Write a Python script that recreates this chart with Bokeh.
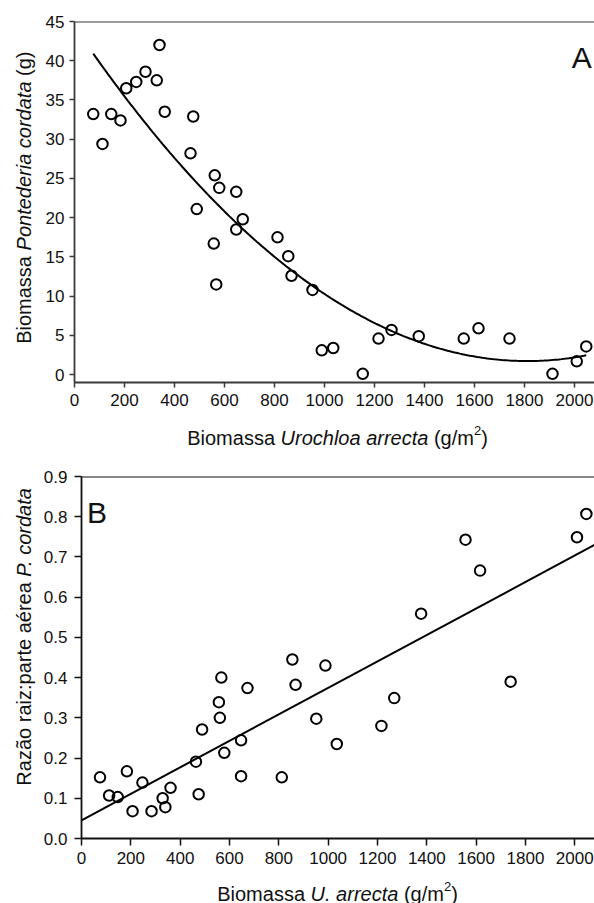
import numpy as np
from bokeh.plotting import figure
from bokeh.layouts import column, row
from bokeh.models import Range1d, Span, Label, FixedTicker, NumeralTickFormatter
from bokeh.embed import file_html
from bokeh.resources import INLINE

# ---------------- data ----------------
# Panel A: Urochloa arrecta biomass (g/m2) vs Pontederia cordata biomass (g)
biomass_a = [75, 112, 147, 184, 207, 247, 284, 329, 340, 361, 464, 475, 489, 557, 561, 567,
             579, 647, 647, 673, 812, 855, 868, 952, 989, 1035, 1153, 1216, 1268, 1377, 1557,
             1616, 1740, 1912, 2009, 2047]
pontederia_a = [33.2, 29.4, 33.2, 32.4, 36.5, 37.3, 38.6, 37.5, 42.0, 33.5, 28.2, 32.9, 21.1,
                16.7, 25.4, 11.5, 23.8, 23.3, 18.5, 19.8, 17.5, 15.1, 12.6, 10.8, 3.1, 3.4, 0.1,
                4.6, 5.7, 4.9, 4.6, 5.9, 4.6, 0.1, 1.7, 3.6]

# Panel B: U. arrecta biomass vs root:shoot ratio of P. cordata
biomass_b = [75, 112, 147, 184, 207, 247, 284, 329, 340, 361, 464, 475, 489, 557, 561, 567,
             579, 647, 647, 673, 812, 855, 868, 952, 989, 1035, 1216, 1268, 1377, 1557, 1616,
             1740, 2009, 2047]
ratio_b = [0.152, 0.107, 0.103, 0.167, 0.068, 0.139, 0.068, 0.100, 0.078, 0.126, 0.191, 0.110,
           0.271, 0.339, 0.300, 0.400, 0.213, 0.244, 0.155, 0.374, 0.152, 0.445, 0.382, 0.298,
           0.430, 0.235, 0.280, 0.349, 0.559, 0.743, 0.666, 0.390, 0.749, 0.807]

x_ticks = [0, 200, 400, 600, 800, 1000, 1200, 1400, 1600, 1800, 2000]
y_ticks_a = [0, 5, 10, 15, 20, 25, 30, 35, 40, 45]
y_ticks_b = [0.0, 0.1, 0.2, 0.3, 0.4, 0.5, 0.6, 0.7, 0.8, 0.9]

FONT = "Liberation Sans"
TICK_SIZE = 17
LABEL_SIZE = 20

# fitted curves (regressions of the data)
ca = np.polyfit(biomass_a, pontederia_a, 2)
xa_fit = np.linspace(min(biomass_a), max(biomass_a), 200)
ya_fit = np.polyval(ca, xa_fit)
cb = np.polyfit(biomass_b, ratio_b, 1)
xb_fit = np.array([0.0, 2080.0])
yb_fit = np.polyval(cb, xb_fit)

W = {' ': 278, '(': 333, ')': 333, '/': 278, ':': 278, '.': 278, 'B': 667, 'P': 667, 'U': 722,
     'R': 722, 'a': 556, 'c': 500, 'd': 556, 'e': 556, 'g': 556, 'h': 556, 'i': 222, 'l': 222,
     'm': 833, 'n': 556, 'o': 556, 'p': 556, 'r': 333, 's': 500, 't': 278, 'z': 500, 'ã': 556,
     'é': 556, '2': 556}


def tw(s, size):
    return sum(W.get(c, 556) for c in s) * size / 1000.0


def rich_label(p, x, y, segs, angle=0.0):
    total = sum(tw(t, s) for t, st, s, r in segs)
    pos = -total / 2.0
    for t, st, s, r in segs:
        lead = tw(t[:len(t) - len(t.lstrip())], s)
        if angle == 0:
            xo, yo = pos + lead, r
        else:
            xo, yo = -r, pos + lead
        p.add_layout(Label(x=x, y=y, x_offset=xo, y_offset=yo, text=t.strip(),
                           text_font=FONT, text_font_size=f"{s}px", text_font_style=st,
                           text_align="left", text_baseline="middle", angle=angle,
                           text_color="#111111"))
        pos += tw(t, s)


def label_fig(w, h):
    f = figure(width=w, height=h, x_range=Range1d(0, w), y_range=Range1d(0, h),
               output_backend="svg", toolbar_location=None, min_border=0)
    f.axis.visible = False
    f.grid.visible = False
    f.outline_line_color = None
    return f


def style(p, yticks, axis_color, tick_out, ystandoff, xstandoff):
    p.xaxis.ticker = FixedTicker(ticks=x_ticks)
    p.yaxis.ticker = FixedTicker(ticks=yticks)
    p.xgrid.visible = False
    p.ygrid.visible = False
    p.outline_line_color = None
    for ax in (p.xaxis, p.yaxis):
        ax.axis_line_color = axis_color
        ax.axis_line_width = 1.8
        ax.major_tick_line_color = axis_color
        ax.major_tick_line_width = 1.5
        ax.major_tick_in = 0
        ax.major_tick_out = tick_out
        ax.minor_tick_in = 0
        ax.minor_tick_out = 0
        ax.major_label_text_font = FONT
        ax.major_label_text_font_size = f"{TICK_SIZE}px"
        ax.major_label_text_color = "#111111"
    p.yaxis.major_label_standoff = ystandoff
    p.xaxis.major_label_standoff = xstandoff


# ---------------- panel A ----------------
pa = figure(width=554, height=415, x_range=Range1d(0, 2080), y_range=Range1d(-1, 45),
            output_backend="svg", toolbar_location=None,
            min_border_left=34, min_border_right=0, min_border_top=21, min_border_bottom=33)
style(pa, y_ticks_a, "#3a3a3a", 5, 5, 6)
pa.add_layout(Span(location=45, dimension="width", line_color="#3a3a3a", line_width=2))
pa.line(xa_fit, ya_fit, line_color="black", line_width=2)
pa.scatter(biomass_a, pontederia_a, size=10.5, marker="circle", fill_color=None,
           line_color="black", line_width=2)
pa.add_layout(Label(x=2069, y=40.4, text="A", text_font=FONT, text_font_size="30px",
                    text_align="right", text_baseline="alphabetic", text_color="#111111"))

ylab_a = label_fig(40, 415)
rich_label(ylab_a, 23, 212.5, [("Biomassa ", "normal", LABEL_SIZE, 0),
                              ("Pontederia cordata", "italic", LABEL_SIZE, 0),
                              (" (g)", "normal", LABEL_SIZE, 0)], angle=np.pi / 2)
xlab_a = label_fig(594, 35)
rich_label(xlab_a, 337, 13, [("Biomassa ", "normal", LABEL_SIZE, 0),
                            ("Urochloa arrecta", "italic", LABEL_SIZE, 0),
                            (" (g/m", "normal", LABEL_SIZE, 0),
                            ("2", "normal", 13, 7),
                            (")", "normal", LABEL_SIZE, 0)])

# ---------------- panel B ----------------
pb = figure(width=554, height=421, x_range=Range1d(0, 2080), y_range=Range1d(0, 0.9),
            output_backend="svg", toolbar_location=None,
            min_border_left=39, min_border_right=0, min_border_top=26, min_border_bottom=33)
style(pb, y_ticks_b, "#111111", 7, 7, 6)
pb.yaxis.formatter = NumeralTickFormatter(format="0.0")
pb.add_layout(Span(location=0.9, dimension="width", line_color="#111111", line_width=1.8))
pb.line(xb_fit, yb_fit, line_color="black", line_width=2)
pb.scatter(biomass_b, ratio_b, size=10.5, marker="circle", fill_color=None,
           line_color="black", line_width=2)
pb.add_layout(Label(x=22.6, y=0.811, text="B", text_font=FONT, text_font_size="30px",
                    text_align="left", text_baseline="alphabetic", text_color="#111111"))

ylab_b = label_fig(40, 421)
rich_label(ylab_b, 23, 236, [("Razão raiz:parte aérea ", "normal", LABEL_SIZE, 0),
                            ("P. cordata", "italic", LABEL_SIZE, 0)], angle=np.pi / 2)
xlab_b = label_fig(594, 32)
rich_label(xlab_b, 337, 10, [("Biomassa ", "normal", LABEL_SIZE, 0),
                            ("U. arrecta", "italic", LABEL_SIZE, 0),
                            (" (g/m", "normal", LABEL_SIZE, 0),
                            ("2", "normal", 13, 7),
                            (")", "normal", LABEL_SIZE, 0)])

layout = column(row(ylab_a, pa, spacing=0), xlab_a, row(ylab_b, pb, spacing=0), xlab_b,
                spacing=0)
open("out.html", "w").write(file_html(layout, INLINE))
